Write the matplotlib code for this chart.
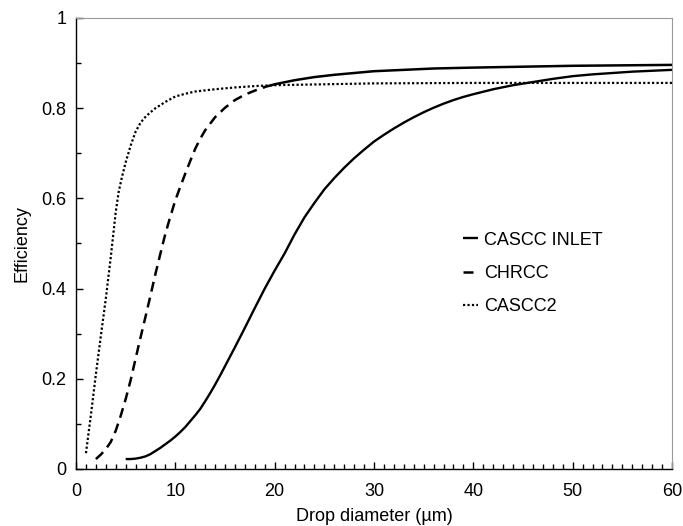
import matplotlib
matplotlib.use("Agg")
import matplotlib.pyplot as plt
from matplotlib.ticker import MultipleLocator
import numpy as np

plt.rcParams['font.family'] = ['Liberation Sans', 'DejaVu Sans']

# CASCC INLET (solid)
inlet_x = [5.0, 5.5, 6.0, 6.5, 7.0, 7.5, 8.0, 8.5, 9.0, 9.5, 10.0, 10.5, 11.0, 11.5, 12.0, 12.5,
           13.0, 13.5, 14.0, 14.5, 15.0, 16.0, 17.0, 18.0, 19.0, 20.0, 21.0, 22.0, 23.0, 24.0,
           25.0, 26.0, 27.0, 28.0, 29.0, 30.0, 31.0, 32.0, 33.0, 34.0, 35.0, 36.0, 37.0, 38.0,
           39.0, 40.0, 42.0, 44.0, 46.0, 48.0, 50.0, 52.0, 54.0, 56.0, 58.0, 60.0]
inlet_y = [0.022, 0.022, 0.023, 0.025, 0.028, 0.033, 0.040, 0.047, 0.055, 0.063, 0.072, 0.082,
           0.093, 0.106, 0.119, 0.133, 0.150, 0.168, 0.187, 0.207, 0.228, 0.270, 0.313, 0.357,
           0.400, 0.440, 0.478, 0.520, 0.558, 0.590, 0.620, 0.645, 0.668, 0.689, 0.708, 0.726,
           0.741, 0.755, 0.768, 0.780, 0.791, 0.801, 0.810, 0.818, 0.825, 0.831, 0.842, 0.851,
           0.858, 0.865, 0.871, 0.875, 0.878, 0.881, 0.883, 0.885]

# CHRCC (dashed)
chrcc_x = [2.0, 2.5, 3.0, 3.5, 4.0, 4.5, 5.0, 5.5, 6.0, 6.5, 7.0, 7.5, 8.0, 8.5, 9.0, 9.5,
           10.0, 10.5, 11.0, 11.5, 12.0, 12.5, 13.0, 14.0, 15.0, 16.0, 17.0, 18.0, 19.0, 20.0,
           22.0, 24.0, 26.0, 28.0, 30.0, 33.0, 36.0, 40.0, 45.0, 50.0, 55.0, 60.0]
chrcc_y = [0.022, 0.032, 0.044, 0.060, 0.085, 0.118, 0.155, 0.197, 0.245, 0.292, 0.338, 0.385,
           0.433, 0.478, 0.522, 0.560, 0.596, 0.626, 0.655, 0.683, 0.710, 0.732, 0.751, 0.780,
           0.801, 0.818, 0.830, 0.839, 0.847, 0.853, 0.862, 0.869, 0.874, 0.878, 0.882, 0.885,
           0.888, 0.890, 0.892, 0.894, 0.895, 0.896]

# CASCC2 (dotted)
cascc2_x = [1.0, 1.5, 2.0, 2.5, 3.0, 3.5, 4.0, 4.3, 4.6, 5.0, 5.5, 6.0, 6.5, 7.0, 7.5, 8.0,
            9.0, 10.0, 11.0, 12.0, 14.0, 16.0, 18.0, 20.0, 25.0, 30.0, 40.0, 60.0]
cascc2_y = [0.035, 0.120, 0.210, 0.295, 0.378, 0.470, 0.570, 0.615, 0.645, 0.680, 0.717, 0.748,
            0.768, 0.781, 0.791, 0.800, 0.814, 0.826, 0.832, 0.837, 0.842, 0.846, 0.849, 0.851,
            0.853, 0.855, 0.856, 0.856]

labels = ["CASCC INLET", "CHRCC", "CASCC2"]

fig = plt.figure(figsize=(6.83, 5.26), dpi=100)
ax = fig.add_axes([0.1113, 0.1084, 0.8726, 0.8574])

l1, = ax.plot(inlet_x, inlet_y, color='black', lw=1.7, solid_capstyle='butt')
cx = np.array(chrcc_x); cy = np.array(chrcc_y)
m1 = cx <= 19.0
m2 = cx >= 19.0
l2, = ax.plot(cx[m1], cy[m1], color='black', lw=1.8, linestyle=(0, (4, 2.5)), dash_capstyle='butt')
ax.plot(cx[m2], cy[m2], color='black', lw=1.8)
l3, = ax.plot(cascc2_x, cascc2_y, color='black', lw=1.6, linestyle=(0, (1, 1)))

ax.set_xlim(0, 60)
ax.set_ylim(0, 1)
ax.xaxis.set_major_locator(MultipleLocator(10))
ax.xaxis.set_minor_locator(MultipleLocator(1))
ax.yaxis.set_minor_locator(MultipleLocator(0.1))
ax.set_yticks([0, 0.2, 0.4, 0.6, 0.8, 1.0])
ax.set_yticklabels(["0", "0.2", "0.4", "0.6", "0.8", "1"])
ax.tick_params(which='both', direction='in', top=False, right=False, labelsize=13, colors='black')
ax.tick_params(which='major', length=5, width=1)
ax.tick_params(which='minor', length=3.5, width=1)
ax.tick_params(axis='x', which='major', pad=10)
ax.tick_params(axis='y', which='major', pad=7)

for s in ['top', 'right']:
    ax.spines[s].set_color('#999999')
    ax.spines[s].set_linewidth(0.8)
for s in ['left', 'bottom']:
    ax.spines[s].set_color('black')
    ax.spines[s].set_linewidth(1.0)

ax.set_xlabel("Drop diameter (µm)", fontsize=13, labelpad=6)
ax.set_ylabel("Efficiency", fontsize=13, labelpad=8)

leg = ax.legend([l1, l2, l3], labels, loc='upper left', bbox_to_anchor=(0.649, 0.526),
                frameon=False, fontsize=13, handlelength=0.85, handletextpad=0.33,
                labelspacing=0.9, borderpad=0, borderaxespad=0)

fig.savefig("out.png", dpi=100)
